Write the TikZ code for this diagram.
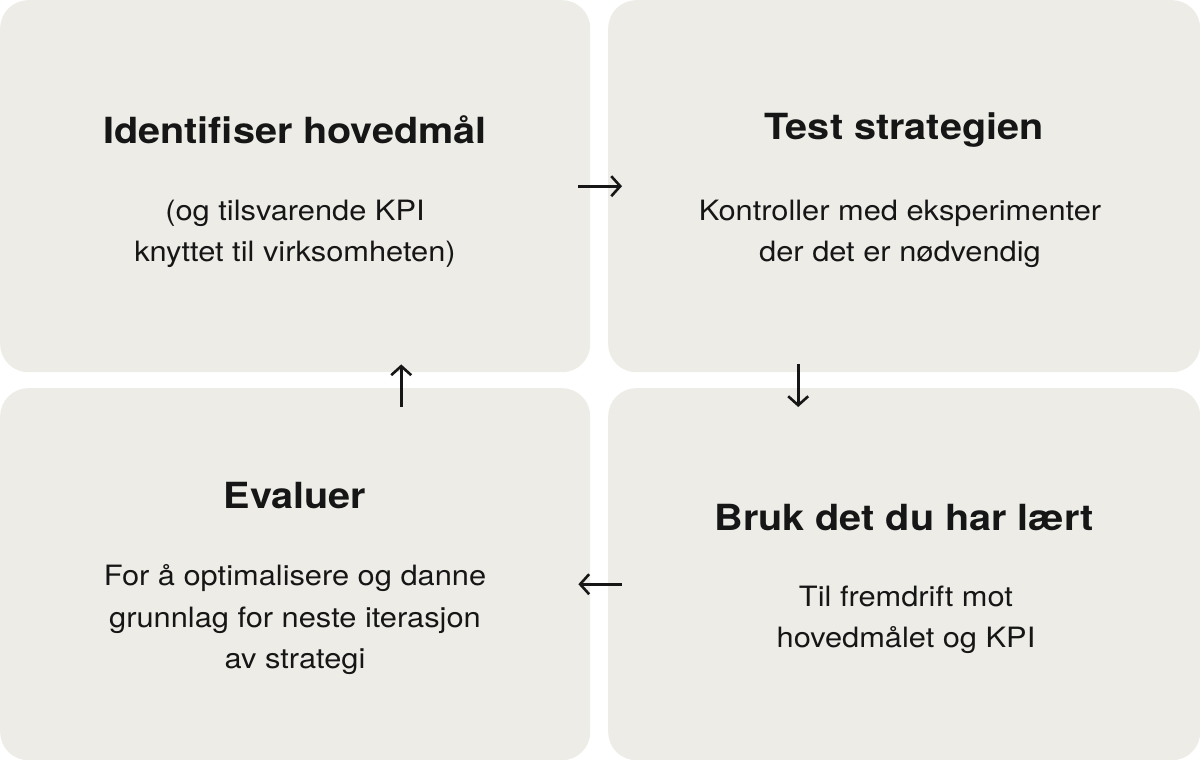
\documentclass[tikz,border=0pt]{standalone}
\usepackage{fontspec}
\setmainfont[FakeStretch=1.1]{TeX Gyre Heros}
\usetikzlibrary{arrows.meta}
\usetikzlibrary{positioning}
\definecolor{boxgray}{HTML}{EDECE7}
\definecolor{ink}{HTML}{161616}

\begin{document}
\begin{tikzpicture}
	[x=1pt, y=-1pt,
	box/.style = {fill=boxgray, rounded corners=28pt, minimum width=590pt, minimum height=372pt, inner sep=0pt, anchor=north west},
	title/.style = {font=\fontsize{36}{42}\selectfont\bfseries, text=ink},
	body/.style = {font=\fontsize{28}{41.5}\selectfont, align=center, text=ink},
	flow/.style = {-{Straight Barb[length=9pt,width=20pt]}, line width=2.6pt, draw=ink}
	]
	\useasboundingbox (0,0) rectangle (1200,760);

	\node[box] (tl) at (0,0) {};
	\node[box, minimum width=592pt] (tr) at (608,0) {};
	\node[box] (bl) at (0,388) {};
	\node[box, minimum width=592pt] (br) at (608,388) {};

	\node[title] (tltitle) at (295,130) {Identifiser hovedmål};
	\node[body] (tlbody) at (295,234) {(og tilsvarende KPI\\knyttet til virksomheten)};

	\node[title] (trtitle) at (904,130) {Test strategien};
	\node[body] (trbody) at (900,234) {Kontroller med eksperimenter\\der det er nødvendig};

	\node[title] (bltitle) at (295,496) {Evaluer};
	\node[body] (blbody) at (295,620) {For å optimalisere og danne\\grunnlag for neste iterasjon\\av strategi};

	\node[title] (brtitle) at (904,518) {Bruk det du har lært};
	\node[body] (brbody) at (906,620) {Til fremdrift mot\\hovedmålet og KPI};

	\draw[flow] ([xshift=-12pt]tl.east) -- ([xshift=14pt]tr.west);
	\draw[flow] ([shift={(-106,-8)}]tr.south) -- ([shift={(-106,19)}]br.north);
	\draw[flow] ([shift={(14,10)}]br.west) -- ([shift={(-12,10)}]bl.east);
	\draw[flow] ([shift={(106,19)}]bl.north) -- ([shift={(106,-8)}]tl.south);
\end{tikzpicture}
\end{document}
